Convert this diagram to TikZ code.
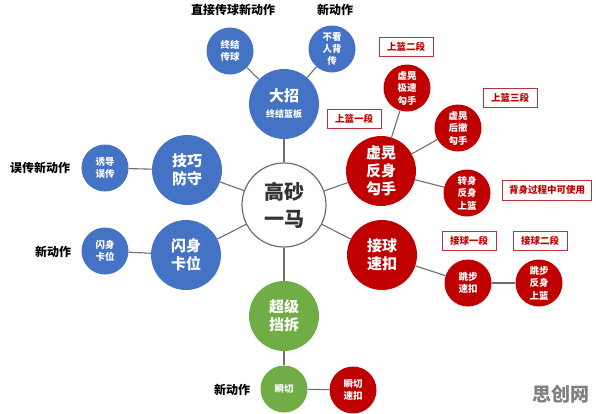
\documentclass[tikz,border=0pt]{standalone}
\usepackage{fontspec}
\setmainfont{Noto Sans CJK SC}
\usepackage{tikz}
\usetikzlibrary{positioning}

\definecolor{myblue}{HTML}{4472C4}
\definecolor{myred}{HTML}{C00000}
\definecolor{mygreen}{HTML}{70AD47}
\definecolor{linegray}{HTML}{6E6E6E}
\definecolor{boxred}{HTML}{B8333A}

\tikzset{
    bigbub/.style={circle, fill=#1, text=white, minimum size=70pt, inner sep=0pt,
        align=center, font=\bfseries\fontsize{15}{18}\selectfont},
    smallbub/.style={circle, fill=#1, text=white, minimum size=47pt, inner sep=0pt,
        align=center, font=\bfseries\fontsize{9.5}{12.5}\selectfont},
    tag/.style={draw=boxred, line width=1pt, fill=white, text=myred, minimum width=54pt,
        minimum height=19pt, inner sep=2pt, font=\bfseries\fontsize{9.5}{11}\selectfont},
    note/.style={font=\bfseries\fontsize{12}{14}\selectfont},
    link/.style={draw=linegray, line width=1.1pt},
}

\begin{document}
\begin{tikzpicture}[x=1pt, y=-1pt]
    \useasboundingbox (0,0) rectangle (596,413);

    % centre
    \node[circle, draw=linegray, line width=1.2pt, fill=white, minimum size=84pt,
        align=center, font=\bfseries\fontsize{20}{27}\selectfont, text=black!80]
        (core) at (284,205) {高砂\\一马};

    % top branch
    \node[bigbub=myblue] (dazhao) at (284,104)
        {大招\\[-2pt]{\fontsize{9}{10}\selectfont 终结篮板}};
    \node[smallbub=myblue] (zhongjie) at (230,51) {终结\\传球};
    \node[smallbub=myblue, font=\bfseries\fontsize{9.5}{12}\selectfont] (bukan) at (332,49) {不看\\人背\\传};
    \node[note] (lab1) at (233,10) {直接传球新动作};
    \node[note] (lab2) at (335,10) {新动作};

    % left branch
    \node[bigbub=myblue] (jiqiao) at (187,170) {技巧\\防守};
    \node[smallbub=myblue] (youdao) at (105,168) {诱导\\误传};
    \node[note] (lab3) at (40,168) {误传新动作};
    \node[bigbub=myblue] (shanshen) at (186,255) {闪身\\卡位};
    \node[smallbub=myblue] (kawei) at (105,251) {闪身\\卡位};
    \node[note] (lab4) at (53,252) {新动作};

    % bottom branch
    \node[bigbub=mygreen] (dangchai) at (284,316) {超级\\挡拆};
    \node[smallbub=mygreen] (shunqie) at (284,389) {瞬切};
    \node[smallbub=myred] (qiekou) at (353,390) {瞬切\\速扣};
    \node[note] (lab5) at (232,390) {新动作};

    % right branch, upper
    \node[bigbub=myred] (huhuang) at (381,171) {虚晃\\反身\\勾手};
    \node[smallbub=myred] (jisu) at (407,88) {虚晃\\极速\\勾手};
    \node[smallbub=myred] (houche) at (458,128) {虚晃\\后撤\\勾手};
    \node[smallbub=myred] (zhuan) at (467,193) {转身\\反身\\上篮};
    \node[tag] (up1) at (354,119) {上篮一段};
    \node[tag] (up2) at (406,47) {上篮二段};
    \node[tag] (up3) at (510,98) {上篮三段};
    \node[tag, minimum width=89pt, minimum height=20pt] (back) at (547,190) {背身过程中可使用};

    % right branch, lower
    \node[bigbub=myred] (jieqiu) at (382,255) {接球\\速扣};
    \node[smallbub=myred] (tiaobu) at (468,283) {跳步\\速扣};
    \node[smallbub=myred] (tiaofan) at (539,283) {跳步\\反身\\上篮};
    \node[tag] (catch1) at (469,241) {接球一段};
    \node[tag] (catch2) at (540,241) {接球二段};

    \node[text=black!50, font=\bfseries\fontsize{19}{20}\selectfont] (mark) at (561,394) {思创网};

    % connectors
    \draw[link] (core) -- (dazhao);
    \draw[link] (core) -- (jiqiao);
    \draw[link] (core) -- (shanshen);
    \draw[link] (core) -- (dangchai);
    \draw[link] (core) -- (huhuang);
    \draw[link] (core) -- (jieqiu);
    \draw[link] (dazhao) -- (zhongjie);
    \draw[link] (dazhao) -- (bukan);
    \draw[link] (jiqiao) -- (youdao);
    \draw[link] (shanshen) -- (kawei);
    \draw[link] (dangchai) -- (shunqie);
    \draw[link] (shunqie) -- (qiekou);
    \draw[link] (huhuang) -- (jisu);
    \draw[link] (huhuang) -- (houche);
    \draw[link] (huhuang) -- (zhuan);
    \draw[link] (jieqiu) -- (tiaobu);
    \draw[link] (tiaobu) -- (tiaofan);
\end{tikzpicture}
\end{document}
